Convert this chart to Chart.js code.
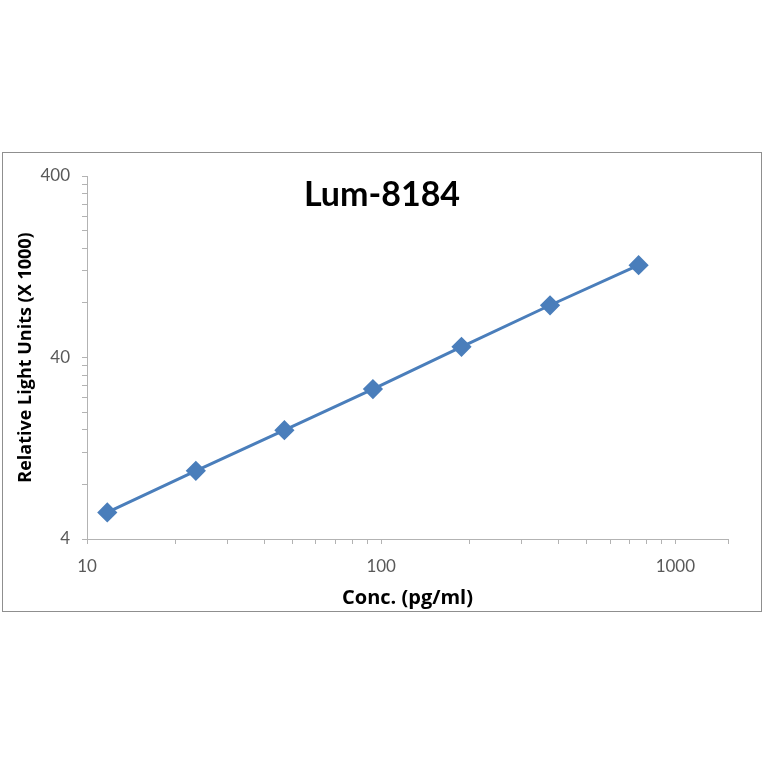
<!DOCTYPE html>
<html>
<head>
<meta charset="utf-8">
<script src="https://cdn.jsdelivr.net/npm/chart.js@4/dist/chart.umd.min.js"></script>
<style>
  body { margin: 0; background: #fff; }
  #box {
    position: absolute; left: 2px; top: 152px;
    width: 758px; height: 458px;
    border: 1px solid #8f8f8f;
  }
</style>
</head>
<body>
<div id="box"><canvas id="grafico" width="758" height="458"></canvas></div>
<script>
// Dados
const concentracoes = [11.72, 23.44, 46.88, 93.75, 187.5, 375, 750];
const rlu = [5.6, 9.5, 15.9, 26.8, 45.8, 77.6, 129];

// Marcas dos eixos (log)
const xTicks = [10, 20, 30, 40, 50, 60, 70, 80, 90, 100, 200, 300, 400, 500, 600, 700, 800, 900, 1000, 1510];
const xTickLabels = [10, 100, 1000];
const yTicks = [4, 8, 12, 16, 20, 24, 28, 32, 36, 40, 80, 120, 160, 200, 240, 280, 320, 360, 400];
const yTickLabels = [4, 40, 400];

const titulo = 'Lum-8184';
const fonte = 'Lato, "Open Sans", sans-serif';
const fonteEixo = '"Open Sans", Lato, sans-serif';

// Título desenhado por cima da área do gráfico
const tituloPlugin = {
    id: 'tituloPlugin',
    afterDraw(chart) {
        const ctx = chart.ctx;
        ctx.save();
        ctx.font = 'bold 34px ' + fonte;
        ctx.fillStyle = '#000';
        ctx.textAlign = 'center';
        ctx.textBaseline = 'middle';
        ctx.fillText(titulo, chart.width / 2, 42);
        ctx.restore();
    }
};

window.addEventListener('DOMContentLoaded', () => {
    const ctx = document.getElementById('grafico').getContext('2d');
    new Chart(ctx, {
        type: 'line',
        data: {
            datasets: [{
                data: concentracoes.map((c, i) => ({ x: c, y: rlu[i] })),
                borderColor: '#4a7ebb',
                backgroundColor: '#4a7ebb',
                borderWidth: 3,
                pointStyle: 'rectRot',
                pointRadius: 8,
                pointHoverRadius: 8,
                tension: 0
            }]
        },
        options: {
            responsive: false,
            animation: false,
            layout: { padding: { top: 23, right: 33, left: 0, bottom: 0 } },
            plugins: {
                legend: { display: false },
                tooltip: { enabled: false }
            },
            scales: {
                x: {
                    type: 'logarithmic',
                    min: 10,
                    max: 1510,
                    afterBuildTicks: s => { s.ticks = xTicks.map(v => ({ value: v })); },
                    afterFit: s => { s.height = 72; },
                    border: { display: true, color: '#b3b3b3', width: 1 },
                    grid: { drawOnChartArea: false, tickLength: 5, color: '#b3b3b3' },
                    ticks: {
                        autoSkip: false,
                        maxRotation: 0,
                        padding: 12,
                        color: '#595959',
                        font: { family: fonte, size: 17 },
                        callback: v => xTickLabels.includes(v) ? String(v) : ''
                    },
                    title: {
                        display: true,
                        text: 'Conc. (pg/ml)',
                        color: '#000',
                        font: { family: fonteEixo, size: 20, weight: 'bold' },
                        padding: { top: 0, bottom: 1 }
                    }
                },
                y: {
                    type: 'logarithmic',
                    min: 4,
                    max: 400,
                    afterBuildTicks: s => { s.ticks = yTicks.map(v => ({ value: v })); },
                    afterFit: s => { s.width = 84; },
                    border: { display: true, color: '#b3b3b3', width: 1 },
                    grid: { drawOnChartArea: false, tickLength: 5, color: '#b3b3b3' },
                    ticks: {
                        autoSkip: false,
                        padding: 12,
                        color: '#595959',
                        font: { family: fonte, size: 17 },
                        callback: v => yTickLabels.includes(v) ? String(v) : ''
                    },
                    title: {
                        display: true,
                        text: 'Relative Light Units (X 1000)',
                        color: '#000',
                        font: { family: fonteEixo, size: 18, weight: 'bold' },
                        padding: { top: 12, bottom: 0 }
                    }
                }
            }
        },
        plugins: [tituloPlugin]
    });
});
</script>
</body>
</html>
